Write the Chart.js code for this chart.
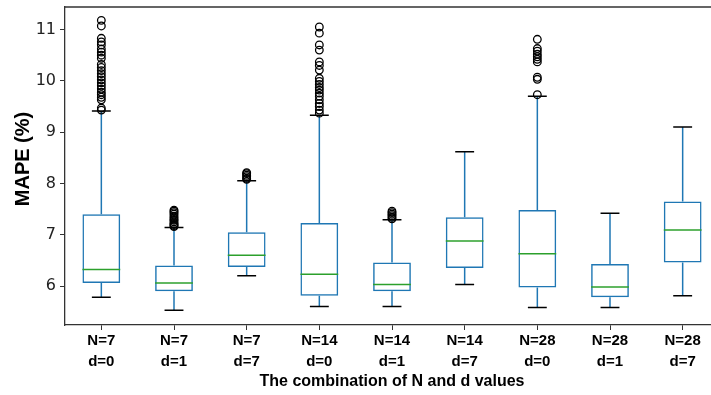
<!DOCTYPE html>
<html>
<head>
<meta charset="utf-8">
<script src="https://cdn.jsdelivr.net/npm/chart.js@4.4.1/dist/chart.umd.min.js"></script>
<style>
  html, body { margin: 0; padding: 0; background: #fff; overflow: hidden; }
  #wrap { position: relative; width: 728px; height: 395px; }
</style>
</head>
<body>
<div id="wrap"><canvas id="myChart"></canvas></div>
<script>
// categories
var nLabels = ['N=7', 'N=7', 'N=7', 'N=14', 'N=14', 'N=14', 'N=28', 'N=28', 'N=28'];
var dLabels = ['d=0', 'd=1', 'd=7', 'd=0', 'd=1', 'd=7', 'd=0', 'd=1', 'd=7'];

// box statistics (MAPE %)
var whiskerLow  = [5.78, 5.53, 6.20, 5.60, 5.60, 6.03, 5.58, 5.58, 5.81];
var q1          = [6.06, 5.90, 6.37, 5.81, 5.90, 6.35, 5.97, 5.78, 6.46];
var medians     = [6.32, 6.06, 6.60, 6.23, 6.03, 6.88, 6.63, 5.98, 7.09];
var q3          = [7.40, 6.40, 7.05, 7.23, 6.46, 7.34, 7.48, 6.43, 7.65];
var whiskerHigh = [9.41, 7.14, 8.05, 9.33, 7.29, 8.62, 9.70, 7.42, 9.10];

// outliers
var fliers = [
  [9.43, 9.47, 9.63, 9.68, 9.73, 9.78, 9.84, 9.90, 9.96, 10.02, 10.08, 10.14, 10.20, 10.26, 10.32, 10.44, 10.50, 10.56, 10.62, 10.70, 10.76, 10.83, 11.07, 11.18],
  [7.16, 7.18, 7.20, 7.22, 7.25, 7.28, 7.30, 7.33, 7.36, 7.40, 7.43, 7.46, 7.48],
  [8.08, 8.10, 8.13, 8.16, 8.19, 8.21],
  [9.37, 9.43, 9.50, 9.56, 9.63, 9.70, 9.76, 9.82, 9.87, 9.93, 9.99, 10.05, 10.21, 10.30, 10.37, 10.60, 10.70, 10.93, 11.05],
  [7.31, 7.34, 7.37, 7.40, 7.43, 7.46],
  [],
  [9.73, 10.03, 10.07, 10.37, 10.42, 10.47, 10.52, 10.58, 10.63, 10.81],
  [],
  []
];

var yTicks = [6, 7, 8, 9, 10, 11];

var labels = nLabels.map(function (n, i) { return n + ' ' + dLabels[i]; });

var boxRanges = q1.map(function (v, i) { return [v, q3[i]]; });

var flierPoints = [];
fliers.forEach(function (list, i) {
  list.forEach(function (v) { flierPoints.push({ x: labels[i], y: v }); });
});

var BLUE = '#1f77b4';
var GREEN = '#2ca02c';

// whiskers, caps and medians drawn with the bar elements' positions
var boxParts = {
  id: 'boxParts',
  beforeDatasetsDraw: function (chart) {
    var ctx = chart.ctx, y = chart.scales.y;
    var meta = chart.getDatasetMeta(0);
    ctx.save();
    ctx.lineWidth = 1.5;
    meta.data.forEach(function (bar, i) {
      var cx = bar.x, half = bar.width / 4;
      ctx.strokeStyle = BLUE;
      ctx.beginPath();
      ctx.moveTo(cx, y.getPixelForValue(q3[i]));
      ctx.lineTo(cx, y.getPixelForValue(whiskerHigh[i]));
      ctx.moveTo(cx, y.getPixelForValue(q1[i]));
      ctx.lineTo(cx, y.getPixelForValue(whiskerLow[i]));
      ctx.stroke();
      ctx.strokeStyle = '#000';
      ctx.beginPath();
      var yh = y.getPixelForValue(whiskerHigh[i]);
      var yl = y.getPixelForValue(whiskerLow[i]);
      ctx.moveTo(cx - half, yh); ctx.lineTo(cx + half, yh);
      ctx.moveTo(cx - half, yl); ctx.lineTo(cx + half, yl);
      ctx.stroke();
    });
    ctx.restore();
  },
  afterDatasetsDraw: function (chart) {
    var ctx = chart.ctx, y = chart.scales.y, a = chart.chartArea;
    var meta = chart.getDatasetMeta(0);
    ctx.save();
    ctx.lineWidth = 1.5;
    ctx.strokeStyle = GREEN;
    meta.data.forEach(function (bar, i) {
      var ym = y.getPixelForValue(medians[i]);
      ctx.beginPath();
      ctx.moveTo(bar.x - bar.width / 2, ym);
      ctx.lineTo(bar.x + bar.width / 2, ym);
      ctx.stroke();
    });
    // axes frame (top / right)
    ctx.strokeStyle = '#333';
    ctx.lineWidth = 1.3;
    ctx.beginPath();
    ctx.moveTo(a.left, a.top);
    ctx.lineTo(a.right, a.top);
    ctx.lineTo(a.right, a.bottom);
    ctx.stroke();
    // y axis title, sitting a bit above the middle like the original
    ctx.fillStyle = '#000';
    ctx.font = 'bold 20px "Liberation Sans"';
    ctx.textAlign = 'center';
    ctx.textBaseline = 'middle';
    ctx.translate(23, (a.top + a.bottom) / 2 - 7);
    ctx.rotate(-Math.PI / 2);
    ctx.fillText('MAPE (%)', 0, 0);
    ctx.restore();
  }
};

var ctx = document.getElementById('myChart');
var myChart = new Chart(ctx, {
  type: 'bar',
  data: {
    labels: labels,
    datasets: [{
      type: 'bar',
      label: 'box',
      data: boxRanges,
      backgroundColor: 'rgba(0,0,0,0)',
      borderColor: BLUE,
      borderWidth: 1.5,
      borderSkipped: false,
      barPercentage: 0.52,
      categoryPercentage: 1.0
    }, {
      type: 'scatter',
      label: 'outliers',
      data: flierPoints,
      pointRadius: 3.8,
      pointBorderWidth: 1.3,
      borderColor: '#000',
      backgroundColor: 'rgba(0,0,0,0)',
      pointStyle: 'circle'
    }]
  },
  options: {
    responsive: true,
    maintainAspectRatio: false,
    animation: false,
    devicePixelRatio: 1,
    layout: { padding: { top: 7, right: 9, left: 0, bottom: 0 } },
    plugins: { legend: { display: false }, tooltip: { enabled: false } },
    scales: {
      x: {
        type: 'category',
        offset: true,
        grid: { display: true, offset: false, drawOnChartArea: false, drawTicks: true, tickLength: 5, color: '#333' },
        border: { display: true, color: '#333', width: 1.3 },
        ticks: {
          maxRotation: 0,
          autoSkip: false,
          padding: 1,
          color: '#000',
          font: { family: 'Liberation Sans', weight: 'bold', size: 15, lineHeight: 1.35 },
          callback: function (value, index) { return [nLabels[index], dLabels[index]]; }
        },
        title: {
          display: true,
          text: 'The combination of N and d values',
          color: '#000',
          font: { family: 'Liberation Sans', weight: 'bold', size: 16 },
          padding: { top: 0, bottom: 4 }
        },
        afterFit: function (s) { s.height = 70; s.paddingLeft = 0; s.paddingRight = 0; }
      },
      y: {
        min: 5.24,
        max: 11.44,
        grid: { display: true, drawOnChartArea: false, drawTicks: true, tickLength: 5, color: '#333' },
        border: { display: true, color: '#333', width: 1.3 },
        ticks: {
          padding: 4,
          color: '#222',
          font: { family: 'DejaVu Sans', size: 16 }
        },
        afterBuildTicks: function (s) {
          s.ticks = yTicks.map(function (v) { return { value: v }; });
        },
        afterFit: function (s) { s.width = 65; s.paddingTop = 0; s.paddingBottom = 0; }
      }
    }
  },
  plugins: [boxParts]
});
</script>
</body>
</html>
